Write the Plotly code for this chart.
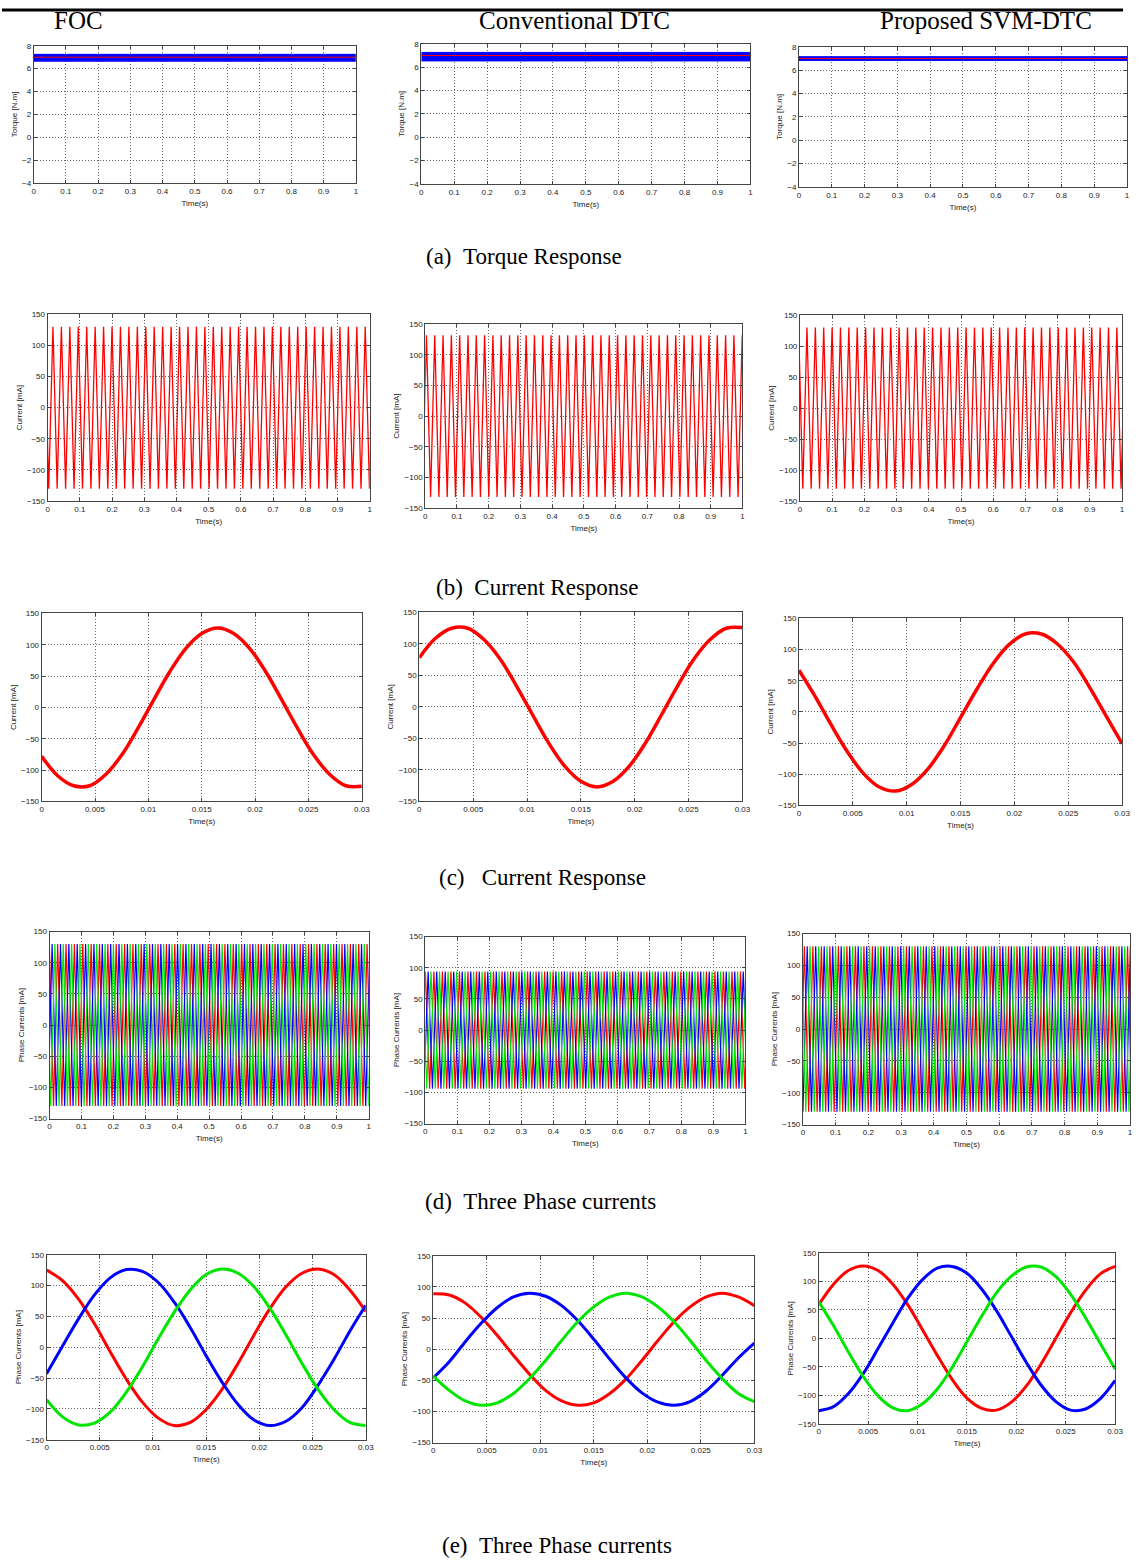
import plotly.graph_objects as go

W, H = 1140, 1566

# ------------------------------------------------------------------ data
# (a) torque: band of the noisy torque trace and the reference line [N.m]
torque_time = [0, 1]
torque_ref = [7.0, 7.0]
foc_torque_low, foc_torque_high = [6.65, 6.65], [7.25, 7.25]
conv_torque_low, conv_torque_high = [6.53, 6.53], [7.26, 7.26]
svm_torque_low, svm_torque_high = [6.83, 6.83], [7.15, 7.15]

# (b),(d) one-second windows: successive current extremes [mA],
# first extreme time and spacing of the extremes [s]
foc_b_extremes = [130, -130] * 40
foc_b_start, foc_b_step = -0.0096, 0.0131
conv_b_extremes = [-132, 132] * 40
conv_b_start, conv_b_step = -0.0094, 0.0131
svm_b_extremes = [130, -130] * 40
svm_b_start, svm_b_step = -0.0042, 0.0130

foc_d_red = [130, -130] * 40
foc_d_blue = [-130, 130] * 40
foc_d_green = [130, -130] * 40
foc_d_starts = [-0.0008, -0.0051, -0.0096]
foc_d_step = 0.0131

conv_d_red = [-94, 94] * 40
conv_d_blue = [-94, 94] * 40
conv_d_green = [94, -94] * 40
conv_d_starts = [-0.0129, -0.0042, -0.0086]
conv_d_step = 0.0133

svm_d_red = [-130, 130] * 40
svm_d_blue = [130, -130] * 40
svm_d_green = [130, -130] * 40
svm_d_starts = [-0.0085, -0.0129, -0.0042]
svm_d_step = 0.0130

# (c),(e) 30 ms windows: readings every 1.5 ms [mA]
t_short = [0.0, 0.0015, 0.003, 0.0045, 0.006, 0.0075, 0.009, 0.0105, 0.012,
           0.0135, 0.015, 0.0165, 0.018, 0.0195, 0.021, 0.0225, 0.024,
           0.0255, 0.027, 0.0285, 0.03]

foc_c = [-78, -109, -125, -125, -107, -76, -34, 12, 57, 94, 118, 127, 118,
         94, 57, 12, -34, -76, -107, -125, -126]
conv_c = [78, 109, 125, 125, 107, 76, 34, -12, -57, -94, -118, -127, -118,
          -94, -57, -12, 34, 76, 107, 125, 126]
svm_c = [67, 25, -21, -64, -99, -121, -127, -116, -91, -54, -9, 36, 77, 108,
         125, 125, 109, 80, 39, -6, -51]

foc_e_red = [125, 108, 78, 38, -8, -52, -89, -115, -127, -122, -101, -68,
             -26, 20, 63, 98, 120, 127, 118, 93, 58]
foc_e_blue = [-43, 2, 46, 85, 113, 126, 123, 105, 73, 32, -14, -57, -93,
              -118, -127, -120, -98, -62, -20, 26, 68]
foc_e_green = [-85, -113, -126, -123, -105, -73, -32, 14, 57, 93, 118, 127,
               120, 98, 63, 20, -26, -68, -101, -122, -127]

conv_e_red = [89, 87, 74, 51, 22, -10, -40, -66, -83, -90, -86, -71, -48,
              -18, 14, 44, 68, 84, 90, 84, 70]
conv_e_blue = [-46, -20, 12, 42, 67, 84, 90, 85, 70, 46, 16, -16, -46, -70,
               -85, -90, -84, -67, -42, -14, 10]
conv_e_green = [-43, -66, -83, -90, -86, -71, -47, -18, 14, 44, 68, 84, 90,
                84, 68, 44, 14, -18, -47, -71, -84]

svm_e_red = [59, 95, 119, 127, 119, 95, 59, 15, -30, -72, -105, -123, -126,
             -112, -84, -45, 0, 45, 84, 113, 126]
svm_e_blue = [-127, -120, -97, -62, -18, 27, 70, 103, 123, 126, 114, 86, 48,
              3, -42, -82, -111, -126, -124, -106, -74]
svm_e_green = [64, 22, -24, -67, -101, -122, -127, -115, -89, -51, -6, 39, 80,
               109, 125, 125, 108, 77, 36, -9, -54]

column_titles = ["FOC", "Conventional DTC", "Proposed SVM-DTC"]
captions = ["(a)\u00a0\u00a0Torque Response", "(b)\u00a0\u00a0Current Response",
            "(c)\u00a0\u00a0\u00a0Current Response",
            "(d)\u00a0\u00a0Three Phase currents",
            "(e)\u00a0\u00a0Three Phase currents"]

# ------------------------------------------------------------------ style
RED, GREEN, BLUE = "rgb(255,0,0)", "rgb(0,230,0)", "rgb(0,0,255)"
TICKFONT = dict(family="Liberation Sans Narrow, Arial Narrow, Liberation Sans, Arial",
                size=8, color="#222")
SERIF = "Liberation Serif, Times New Roman, serif"

# panel boxes in pixels: left, right, top, bottom
boxes = {
    1: (32, 357, 42, 180), 2: (423, 755, 40, 181), 3: (804, 1135, 43, 184),
    4: (46, 371, 312, 500), 5: (427, 747, 322, 507), 6: (805, 1130, 313, 500),
    7: (40, 363, 613, 802), 8: (421, 747, 612, 802), 9: (804, 1130, 618, 806),
    10: (48, 370, 933, 1121), 11: (427, 750, 938, 1126), 12: (808, 1138, 935, 1127),
    13: (45, 367, 1258, 1444), 14: (435, 759, 1259, 1447), 15: (824, 1123, 1256, 1428),
}

fig = go.Figure()
layout = {}


def ref(i):
    return ("x" if i == 1 else f"x{i}"), ("y" if i == 1 else f"y{i}")


def axis_common():
    return dict(showline=True, linecolor="#444", linewidth=1, mirror="ticks",
                ticks="inside", ticklen=3, tickcolor="#444", tickwidth=1,
                showgrid=True, gridcolor="#666", griddash="1px,2px", gridwidth=1,
                zeroline=False, tickfont=TICKFONT, fixedrange=True)


def make_axes(i, xr, xd, yr, yd, ytitle):
    l, r, t, b = boxes[i]
    xn = "xaxis" if i == 1 else f"xaxis{i}"
    yn = "yaxis" if i == 1 else f"yaxis{i}"
    xa = axis_common()
    xa.update(domain=[l / W, r / W], range=xr, dtick=xd, tick0=0,
              anchor=ref(i)[1],
              title=dict(text="Time(s)", font=TICKFONT, standoff=5))
    ya = axis_common()
    ya.update(domain=[1 - b / H, 1 - t / H], range=yr, dtick=yd, tick0=0,
              anchor=ref(i)[0],
              title=dict(text=ytitle, font=TICKFONT, standoff=3))
    layout[xn] = xa
    layout[yn] = ya


# ---- row (a) torque
for i, (lo, hi) in zip([1, 2, 3], [(foc_torque_low, foc_torque_high),
                                   (conv_torque_low, conv_torque_high),
                                   (svm_torque_low, svm_torque_high)]):
    xr, yr = ref(i)
    make_axes(i, [0, 1], 0.1, [-4, 8], 2, "Torque [N.m]")
    fig.add_trace(go.Scatter(x=torque_time, y=lo, mode="lines",
                             line=dict(color=BLUE, width=1), xaxis=xr, yaxis=yr,
                             showlegend=False, hoverinfo="skip"))
    fig.add_trace(go.Scatter(x=torque_time, y=hi, mode="lines", fill="tonexty",
                             fillcolor=BLUE, line=dict(color=BLUE, width=1),
                             xaxis=xr, yaxis=yr, showlegend=False, hoverinfo="skip"))
    fig.add_trace(go.Scatter(x=torque_time, y=torque_ref, mode="lines",
                             line=dict(color=RED, width=1), xaxis=xr, yaxis=yr,
                             showlegend=False, hoverinfo="skip"))

# ---- row (b) current, 1 s
for i, (ys, x0, dx) in zip([4, 5, 6], [(foc_b_extremes, foc_b_start, foc_b_step),
                                       (conv_b_extremes, conv_b_start, conv_b_step),
                                       (svm_b_extremes, svm_b_start, svm_b_step)]):
    xr, yr = ref(i)
    make_axes(i, [0, 1], 0.1, [-150, 150], 50, "Current [mA]")
    fig.add_trace(go.Scatter(y=ys, x0=x0, dx=dx, mode="lines",
                             line=dict(color=RED, width=1.3), xaxis=xr, yaxis=yr,
                             showlegend=False, hoverinfo="skip"))

# ---- row (c) current, 30 ms
for i, ys in zip([7, 8, 9], [foc_c, conv_c, svm_c]):
    xr, yr = ref(i)
    make_axes(i, [0, 0.03], 0.005, [-150, 150], 50, "Current [mA]")
    fig.add_trace(go.Scatter(x=t_short, y=ys, mode="lines",
                             line=dict(color=RED, width=3.5, shape="spline"),
                             xaxis=xr, yaxis=yr, showlegend=False, hoverinfo="skip"))

# ---- row (d) three phase, 1 s
for i, (phases, starts, dx) in zip(
        [10, 11, 12],
        [((foc_d_red, foc_d_blue, foc_d_green), foc_d_starts, foc_d_step),
         ((conv_d_red, conv_d_blue, conv_d_green), conv_d_starts, conv_d_step),
         ((svm_d_red, svm_d_blue, svm_d_green), svm_d_starts, svm_d_step)]):
    xr, yr = ref(i)
    make_axes(i, [0, 1], 0.1, [-150, 150], 50, "Phase Currents [mA]")
    for ys, x0, col in zip(phases, starts, [RED, BLUE, GREEN]):
        fig.add_trace(go.Scatter(y=ys, x0=x0, dx=dx, mode="lines",
                                 line=dict(color=col, width=1.2), xaxis=xr, yaxis=yr,
                                 showlegend=False, hoverinfo="skip"))

# ---- row (e) three phase, 30 ms
for i, phases in zip([13, 14, 15],
                     [(foc_e_red, foc_e_blue, foc_e_green),
                      (conv_e_red, conv_e_blue, conv_e_green),
                      (svm_e_red, svm_e_blue, svm_e_green)]):
    xr, yr = ref(i)
    make_axes(i, [0, 0.03], 0.005, [-150, 150], 50, "Phase Currents [mA]")
    for ys, col in zip(phases, [RED, BLUE, GREEN]):
        fig.add_trace(go.Scatter(x=t_short, y=ys, mode="lines",
                                 line=dict(color=col, width=3, shape="spline"),
                                 xaxis=xr, yaxis=yr, showlegend=False, hoverinfo="skip"))

# ---- text
annotations = []
for txt, cx in zip(column_titles, [77, 578, 993]):
    annotations.append(dict(text=txt, x=cx / W, y=1 - 17 / H, xref="paper", yref="paper",
                            showarrow=False, xanchor="center", yanchor="middle",
                            font=dict(family=SERIF, size=25, color="black")))
for txt, cx, cy in zip(captions, [527, 540, 545, 543, 560], [254, 587, 879, 1204, 1550]):
    annotations.append(dict(text=txt, x=cx / W, y=1 - cy / H, xref="paper", yref="paper",
                            showarrow=False, xanchor="center", yanchor="middle",
                            font=dict(family=SERIF, size=23, color="black")))

shapes = [dict(type="line", xref="paper", yref="paper", x0=0, x1=1131 / W,
               y0=1 - 6 / H, y1=1 - 6 / H, line=dict(color="black", width=3))]

fig.update_layout(width=W, height=H, margin=dict(l=0, r=0, t=0, b=0),
                  paper_bgcolor="white", plot_bgcolor="white",
                  annotations=annotations, shapes=shapes, showlegend=False,
                  **layout)

fig.write_html("out.html")
